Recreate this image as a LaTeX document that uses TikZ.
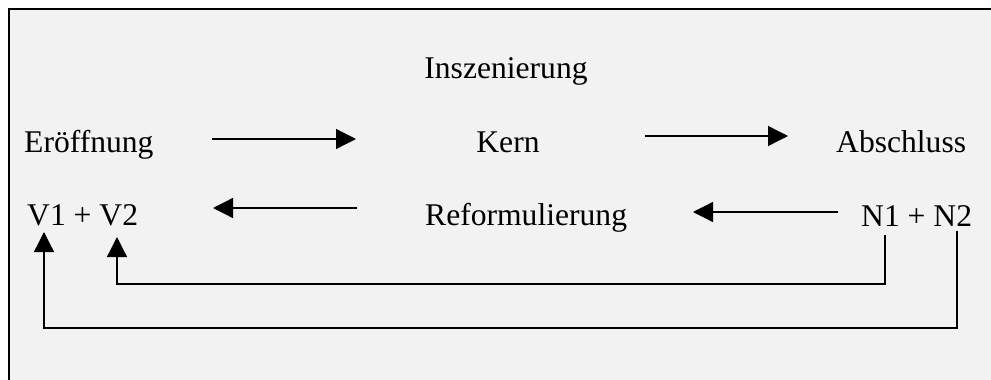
\documentclass[tikz,border=0pt]{standalone}
\usepackage{fontspec}
\setmainfont{Liberation Serif}
\usetikzlibrary{arrows.meta}
\definecolor{bgray}{HTML}{F2F2F2}
\begin{document}
\begin{tikzpicture}[x=1pt,y=-1pt,
  lbl/.style={inner sep=0pt, font=\fontsize{31.6}{38}\selectfont},
  arr/.style={line width=1.3pt, -{Triangle[length=20pt,width=20pt]}},
  frame/.style={line width=2pt}]
\useasboundingbox (0,0) rectangle (991,380);
\fill[white] (0,0) rectangle (991,380);
\fill[bgray] (9,9) rectangle (991,380);
\draw[frame] (9,380) -- (9,9) -- (991,9);

% texts
\node[lbl, anchor=base] (ins) at (506,78) {Inszenierung};
\node[lbl, anchor=base west] (er) at (24,152) {Eröffnung};
\node[lbl, anchor=base] (kern) at (508,152) {Kern};
\node[lbl, anchor=base west] (ab) at (836,152) {Abschluss};
\node[lbl, anchor=base west] (v) at (27,225) {V1 + V2};
\node[lbl, anchor=base west] (ref) at (425,225) {Reformulierung};
\node[lbl, anchor=base west] (n) at (861,226) {N1 + N2};

% connector end points
\coordinate (a1s) at (212,139);
\coordinate (a1e) at (356,139);
\coordinate (a2s) at (645,136);
\coordinate (a2e) at (788,136);
\coordinate (a3s) at (357,208);
\coordinate (a3e) at (213,208);
\coordinate (a4s) at (838,212);
\coordinate (a4e) at (693,212);
\coordinate (n1) at (885,235);
\coordinate (v2) at (117,237);
\coordinate (n2) at (957,231);
\coordinate (v1) at (44,232);

\draw[arr] (a1s) -- (a1e);
\draw[arr] (a2s) -- (a2e);
\draw[arr] (a3s) -- (a3e);
\draw[arr] (a4s) -- (a4e);
\draw[arr] (n1) -- (885,284) -- (117,284) -- (v2);
\draw[arr] (n2) -- (957,328) -- (44,328) -- (v1);
\end{tikzpicture}
\end{document}
